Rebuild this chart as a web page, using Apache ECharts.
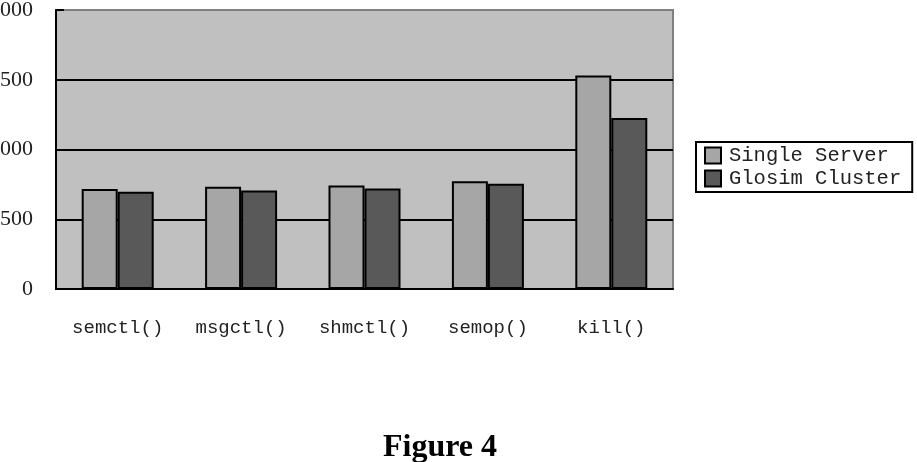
<!DOCTYPE html>
<html>
<head>
<meta charset="utf-8">
<title>Figure 4</title>
<script src="https://cdn.jsdelivr.net/npm/echarts@6/dist/echarts.min.js"></script>
<style>
  html, body { margin: 0; padding: 0; background: #fff; }
  #chart { width: 917px; height: 462px; }
</style>
</head>
<body>
<div id="chart"></div>
<script>
// data
const categories = ['semctl()', 'msgctl()', 'shmctl()', 'semop()', 'kill()']
const singleServer = [716, 733, 742, 773, 1530]
const glosimCluster = [697, 706, 721, 754, 1226]
const seriesNames = ['Single Server', 'Glosim Cluster']

const chart = echarts.init(document.getElementById('chart'))

const barStyle = color => ({
  color: color,
  borderColor: '#000',
  borderWidth: 2
})

const option = {
  animation: false,
  title: {
    text: 'Figure 4',
    left: 378,
    top: 427,
    textStyle: {
      fontFamily: 'Liberation Serif',
      fontWeight: 'bold',
      fontSize: 32,
      color: '#000'
    }
  },
  legend: {
    data: seriesNames,
    orient: 'vertical',
    left: 696,
    top: 142,
    padding: [3, 11, 3, 8],
    itemGap: 2,
    itemWidth: 16,
    itemHeight: 16,
    icon: 'rect',
    backgroundColor: '#fff',
    borderColor: '#000',
    borderWidth: 2,
    borderRadius: 0,
    textStyle: {
      fontFamily: 'Liberation Mono',
      fontSize: 20.5,
      color: '#222',
      padding: [0, 0, 0, 3]
    }
  },
  grid: {
    left: 56,
    top: 10,
    right: 244,
    bottom: 173,
    containLabel: false,
    outerBoundsMode: 'none',
    show: true,
    backgroundColor: '#c0c0c0',
    borderColor: '#7f7f7f',
    borderWidth: 2
  },
  xAxis: {
    type: 'category',
    data: categories,
    axisLine: { lineStyle: { color: '#000', width: 2 } },
    axisTick: { inside: true, length: 6, lineStyle: { color: '#000', width: 2 } },
    axisLabel: {
      margin: 29,
      fontFamily: 'Liberation Mono',
      fontSize: 19,
      color: '#222'
    }
  },
  yAxis: {
    type: 'value',
    min: 0,
    max: 2000,
    interval: 500,
    axisLine: { show: true, lineStyle: { color: '#000', width: 2 } },
    axisTick: { show: true, inside: true, length: 8, lineStyle: { color: '#000', width: 2 } },
    axisLabel: {
      margin: 23,
      fontFamily: 'Liberation Serif',
      fontSize: 22,
      color: '#222',
      formatter: v => String(v) // no thousands separator
    },
    // top line stays grey like the frame
    splitLine: {
      lineStyle: { color: ['#000', '#000', '#000', '#000', '#7f7f7f'], width: 2 }
    }
  },
  series: [
    {
      name: seriesNames[0],
      type: 'bar',
      data: singleServer,
      barWidth: 36,
      barGap: '0%',
      itemStyle: barStyle('#a6a6a6')
    },
    {
      name: seriesNames[1],
      type: 'bar',
      data: glosimCluster,
      barWidth: 36,
      itemStyle: barStyle('#595959')
    }
  ]
}

chart.setOption(option)
</script>
</body>
</html>
